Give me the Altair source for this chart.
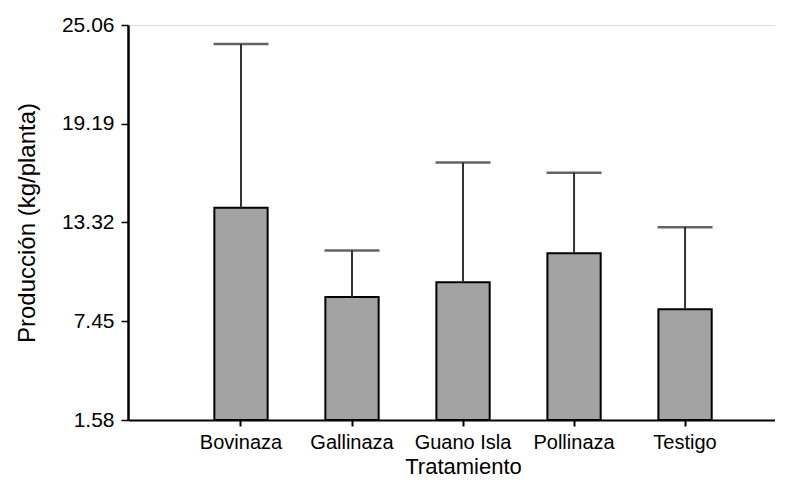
import altair as alt
import pandas as pd

categories = ["Bovinaza", "Gallinaza", "Guano Isla", "Pollinaza", "Testigo"]
means = [14.20, 8.89, 9.77, 11.49, 8.16]
uppers = [23.93, 11.65, 16.88, 16.28, 13.04]
y_ticks = [1.58, 7.45, 13.32, 19.19, 25.06]

df = pd.DataFrame({"Tratamiento": categories, "media": means, "sup": uppers})

FONT = "Liberation Sans"

x_scale = alt.Scale(paddingInner=0.52, paddingOuter=0.674, align=0.577)

x_enc = alt.X(
    "Tratamiento:N",
    sort=categories,
    scale=x_scale,
    axis=alt.Axis(
        title="Tratamiento",
        labelAngle=0,
        labelFontSize=20,
        titleFontSize=22,
        labelFont=FONT,
        titleFont=FONT,
        labelColor="black",
        titleColor="black",
        titleFontWeight="normal",
        domain=True,
        ticks=True,
        domainColor="black",
        domainWidth=2,
        tickColor="black",
        tickWidth=2,
        tickSize=6,
        labelPadding=6,
        titleX=335,
        titleY=53,
        titleAlign="center",
        titleBaseline="alphabetic",
    ),
)

y_scale = alt.Scale(domain=[1.58, 25.06], nice=False, zero=False)

y_axis = alt.Axis(
    title="Producción (kg/planta)",
    values=y_ticks,
    format=".2f",
    grid=False,
    domain=True,
    ticks=True,
    labelFontSize=21,
    titleFontSize=24,
    labelFont=FONT,
    titleFont=FONT,
    labelColor="black",
    titleColor="black",
    titleFontWeight="normal",
    domainColor="black",
    domainWidth=2.5,
    tickColor="black",
    tickWidth=1.5,
    tickSize=7,
    labelPadding=7,
    titlePadding=22,
)

bars = alt.Chart(df).mark_bar(
    color="#a3a3a3", stroke="black", strokeWidth=2
).encode(
    x=x_enc,
    y=alt.Y("media:Q", scale=y_scale, axis=y_axis),
    y2=alt.datum(1.58),
)

stems = alt.Chart(df).mark_rule(color="#333333", strokeWidth=2).encode(
    x=alt.X("Tratamiento:N", sort=categories),
    y=alt.Y("media:Q"),
    y2="sup:Q",
)

caps = alt.Chart(df).mark_tick(
    color="#222222", thickness=2.5, size=55, orient="horizontal"
).encode(
    x=alt.X("Tratamiento:N", sort=categories),
    y=alt.Y("sup:Q"),
)

chart = (
    alt.layer(bars, stems, caps)
    .properties(
        width=647,
        height=395,
        padding={"left": 120, "top": 17, "right": 0, "bottom": 57},
        autosize=alt.AutoSizeParams(type="none"),
    )
    .configure_view(stroke=None)
    .configure(background="white")
)

chart.save("out.html", embed_options={"renderer": "svg", "actions": False})
